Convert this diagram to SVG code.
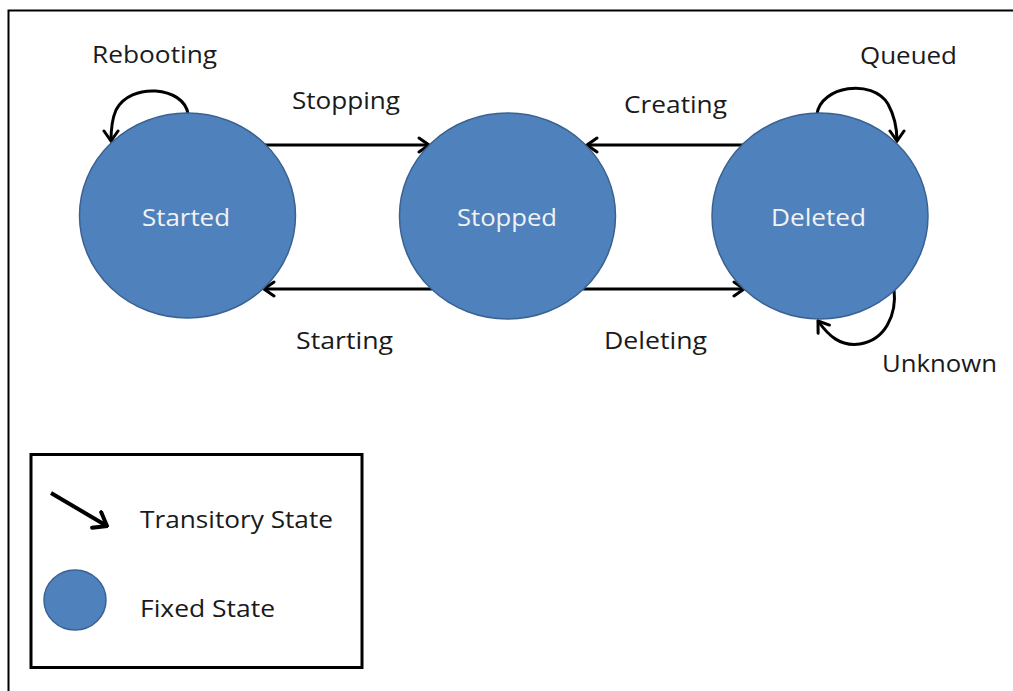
<svg xmlns="http://www.w3.org/2000/svg" width="1013" height="691" viewBox="0 0 1013 691">
  <defs>
    <marker id="head" markerUnits="userSpaceOnUse" viewBox="-12 -9 14 18" markerWidth="14" markerHeight="18" refX="0" refY="0" orient="auto">
      <polyline points="-10,-7 0,0 -10,7" fill="none" stroke="#000" stroke-width="3" stroke-linecap="round" stroke-linejoin="miter"/>
    </marker>
    <marker id="headBig" markerUnits="userSpaceOnUse" viewBox="-14 -11 16 22" markerWidth="16" markerHeight="22" refX="0" refY="0" orient="auto">
      <polyline points="-12,-9 0,0 -12,9" fill="none" stroke="#000" stroke-width="4" stroke-linecap="round"/>
    </marker>
  </defs>
  <style>
    .state { fill: #4F81BD; stroke: #3A6291; stroke-width: 1.5; }
    .conn { fill: none; stroke: #000; stroke-width: 3; marker-end: url(#head); }
    .lbl { font-family: "Open Sans", "Liberation Sans", sans-serif; font-size: 23px; fill: #1a1a1a; }
    .inner { font-family: "Open Sans", "Liberation Sans", sans-serif; font-size: 23px; fill: #F2F2F2; }
  </style>
  <rect width="1013" height="691" fill="#fff"/>
  <!-- outer frame -->
  <path d="M8.5,691 V10.5 H1013" fill="none" stroke="#000" stroke-width="2"/>

  <g id="connectors">
    <path class="conn" d="M262,145 H429"/>
    <path class="conn" d="M743,145 H587"/>
    <path class="conn" d="M432,289 H264"/>
    <path class="conn" d="M583,289 H744"/>
    <path class="conn" d="M188,114 C184,86 130,82 116,110 C112,119 111,130 111,141"/>
    <path class="conn" d="M817,114 C821,86 872,78 888,104 C894,115 897,128 897,141"/>
    <path class="conn" d="M894,289 C897,315 885,340 860,344 C840,347 828,335 818,321"/>
  </g>

  <g id="label-rebooting"><text class="lbl" x="92" y="63" textLength="125" lengthAdjust="spacingAndGlyphs">Rebooting</text></g>
  <g id="label-stopping"><text class="lbl" x="292" y="109" textLength="108" lengthAdjust="spacingAndGlyphs">Stopping</text></g>
  <g id="label-creating"><text class="lbl" x="624" y="113" textLength="103" lengthAdjust="spacingAndGlyphs">Creating</text></g>
  <g id="label-starting"><text class="lbl" x="296" y="349" textLength="97" lengthAdjust="spacingAndGlyphs">Starting</text></g>
  <g id="label-deleting"><text class="lbl" x="604" y="349" textLength="103" lengthAdjust="spacingAndGlyphs">Deleting</text></g>
  <g id="label-queued"><text class="lbl" x="860" y="64" textLength="97" lengthAdjust="spacingAndGlyphs">Queued</text></g>
  <g id="label-unknown"><text class="lbl" x="882" y="372" textLength="115" lengthAdjust="spacingAndGlyphs">Unknown</text></g>

  <g id="node-started">
    <ellipse class="state" cx="187.5" cy="215.5" rx="108" ry="102.5"/>
    <text class="inner" x="142" y="226" textLength="88" lengthAdjust="spacingAndGlyphs">Started</text>
  </g>
  <g id="node-stopped">
    <ellipse class="state" cx="507.5" cy="216" rx="108" ry="103"/>
    <text class="inner" x="457" y="226" textLength="100" lengthAdjust="spacingAndGlyphs">Stopped</text>
  </g>
  <g id="node-deleted">
    <ellipse class="state" cx="820" cy="216" rx="108" ry="103"/>
    <text class="inner" x="771" y="226" textLength="95" lengthAdjust="spacingAndGlyphs">Deleted</text>
  </g>

  <g id="legend">
    <rect x="31" y="454.5" width="331" height="213" fill="none" stroke="#000" stroke-width="3"/>
    <path d="M51,493 L107,526" fill="none" stroke="#000" stroke-width="4" marker-end="url(#headBig)"/>
    <text class="lbl" x="140" y="528" textLength="193" lengthAdjust="spacingAndGlyphs">Transitory State</text>
    <ellipse class="state" cx="75" cy="600" rx="31" ry="30"/>
    <text class="lbl" x="140" y="617" textLength="135" lengthAdjust="spacingAndGlyphs">Fixed State</text>
  </g>
</svg>
